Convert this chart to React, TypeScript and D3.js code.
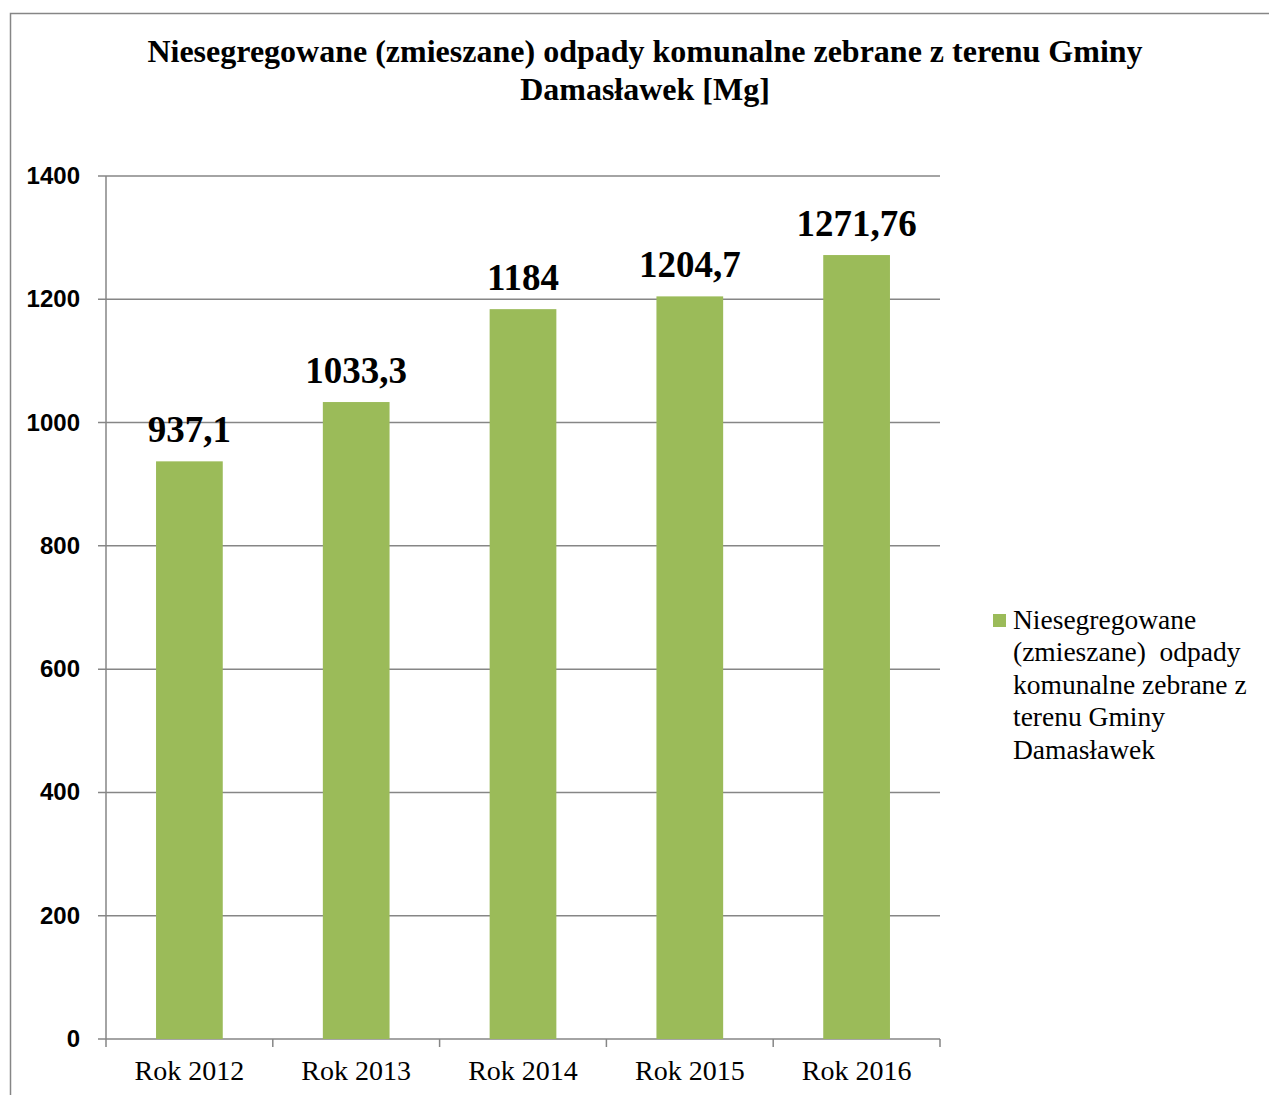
import React from "react";
import * as d3 from "d3";

const categories = ["Rok 2012", "Rok 2013", "Rok 2014", "Rok 2015", "Rok 2016"];
const values = [937.1, 1033.3, 1184, 1204.7, 1271.76];
const valueLabels = ["937,1", "1033,3", "1184", "1204,7", "1271,76"];
const yTicks = [0, 200, 400, 600, 800, 1000, 1200, 1400];
const titleLines = [
  "Niesegregowane (zmieszane) odpady komunalne zebrane z terenu Gminy",
  "Damasławek [Mg]",
];
const legendLines = [
  "Niesegregowane",
  "(zmieszane)  odpady",
  "komunalne zebrane z",
  "terenu Gminy",
  "Damasławek",
];

const W = 1269;
const H = 1095;
const left = 106;
const right = 940;
const top = 176;
const bottom = 1039;
const GREEN = "#9BBB59";
const GRAY = "#868686";

export default function App() {
  const x = d3.scaleBand<string>().domain(categories).range([left, right]).paddingInner(0.6).paddingOuter(0.3);
  const xb = d3.scaleBand<string>().domain(categories).range([left, right]);
  const y = d3.scaleLinear().domain([0, 1400]).range([bottom, top]);
  const serif = "'Liberation Serif', 'Times New Roman', serif";
  const sans = "'Liberation Sans', Arial, sans-serif";
  return (
    <svg width={W} height={H} style={{ position: "absolute", left: 0, top: 0 }}>
      <rect x={0} y={0} width={W} height={H} fill="#fff" />
      <rect x={10.5} y={13.5} width={W + 20} height={H + 20} fill="none" stroke={GRAY} strokeWidth={1.5} />
      {titleLines.map((t, i) => (
        <text key={i} x={645} y={62 + i * 38} textAnchor="middle" fontFamily={serif} fontWeight="bold" fontSize={32}>
          {t}
        </text>
      ))}
      {yTicks.map((t) => (
        <g key={t}>
          <line x1={98} x2={right} y1={y(t)} y2={y(t)} stroke={GRAY} strokeWidth={1.5} />
          <text x={80} y={y(t) + 8} textAnchor="end" fontFamily={sans} fontWeight="bold" fontSize={24}>
            {t}
          </text>
        </g>
      ))}
      <line x1={left} x2={left} y1={top} y2={bottom} stroke={GRAY} strokeWidth={1.5} />
      {categories.map((c, i) => (
        <line key={"t" + i} x1={xb(c)!} x2={xb(c)!} y1={bottom} y2={bottom + 8} stroke={GRAY} strokeWidth={1.5} />
      ))}
      <line x1={right} x2={right} y1={bottom} y2={bottom + 8} stroke={GRAY} strokeWidth={1.5} />
      {categories.map((c, i) => (
        <g key={c}>
          <rect x={x(c)!} y={y(values[i])} width={x.bandwidth()} height={bottom - y(values[i])} fill={GREEN} />
          <text x={x(c)! + x.bandwidth() / 2} y={y(values[i]) - 19} textAnchor="middle" fontFamily={serif} fontWeight="bold" fontSize={37}>
            {valueLabels[i]}
          </text>
          <text x={xb(c)! + xb.bandwidth() / 2} y={1080} textAnchor="middle" fontFamily={serif} fontSize={28}>
            {c}
          </text>
        </g>
      ))}
      <rect x={993} y={614} width={13} height={13} fill={GREEN} />
      {legendLines.map((l, i) => (
        <text key={i} x={1013} y={629 + i * 32.4} fontFamily={serif} fontSize={27.5} style={{ whiteSpace: "pre" }}>
          {l}
        </text>
      ))}
    </svg>
  );
}
